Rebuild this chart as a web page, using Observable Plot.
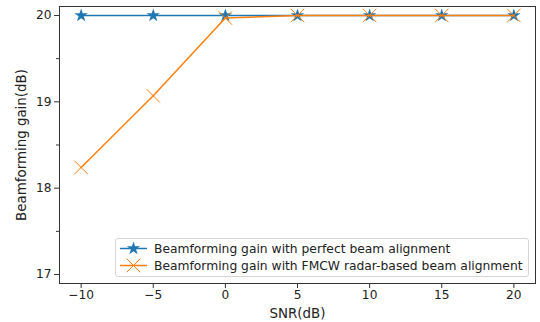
<!DOCTYPE html>
<html>
<head>
<meta charset="utf-8">
<script src="https://cdn.jsdelivr.net/npm/d3@7"></script>
<script src="https://cdn.jsdelivr.net/npm/@observablehq/plot@0.6"></script>
<style>
  html, body { margin: 0; padding: 0; background: #fff; }
  #wrap { position: relative; width: 540px; height: 322px; font-family: "DejaVu Sans", sans-serif; }
  #wrap svg { display: block; }
  g[aria-label="x-axis label"] text, g[aria-label="y-axis label"] text { font-size: 13.4px; }
  #legend { position: absolute; left: 115px; top: 238px; width: 412px; height: 37px;
    border: 1px solid #d6d6d6; border-radius: 3px; background: rgba(255,255,255,0.8);
    font-size: 12.3px; color: #222; }
  .row { position: absolute; left: 0; height: 17px; display: flex; align-items: center; }
  .row svg { margin-left: 4px; margin-right: 7px; }
</style>
</head>
<body>
<div id="wrap"></div>
<script>
const snr = [-10, -5, 0, 5, 10, 15, 20];
const perfectGain = [20, 20, 20, 20, 20, 20, 20];
const fmcwGain = [18.24, 19.07, 19.97, 20, 20, 20, 20];
const seriesNames = [
  "Beamforming gain with perfect beam alignment",
  "Beamforming gain with FMCW radar-based beam alignment"
];
const seriesColors = ["#1f77b4", "#ff7f0e"];
const xTicks = [-10, -5, 0, 5, 10, 15, 20];
const yTicks = [17, 18, 19, 20];
const yMinorTicks = [17.5, 18.5, 19.5];

const perfect = snr.map((s, i) => ({snr: s, gain: perfectGain[i]}));
const fmcw = snr.map((s, i) => ({snr: s, gain: fmcwGain[i]}));
const fmt = d => d < 0 ? "\u2212" + Math.abs(d) : String(d);

const chart = Plot.plot({
  width: 540,
  height: 322,
  marginLeft: 59,
  marginRight: 5,
  marginTop: 6,
  marginBottom: 39,
  style: {fontFamily: "DejaVu Sans, sans-serif", fontSize: "12.2px", color: "#222", background: "#fff"},
  x: {domain: [-11.5, 21.5]},
  y: {domain: [16.896, 20.104]},
  marks: [
    Plot.axisX({ticks: xTicks, tickSize: 5, tickPadding: 2, tickFormat: fmt, stroke: "#333",
      label: "SNR(dB)", labelAnchor: "center", labelOffset: 34, labelArrow: "none"}),
    Plot.axisY({ticks: yTicks, tickSize: 5, tickPadding: 3, tickFormat: fmt, stroke: "#333",
      label: "Beamforming gain(dB)", labelAnchor: "center", labelOffset: 43, labelArrow: "none"}),
    Plot.axisY({ticks: yMinorTicks, tickSize: 3, tickFormat: () => "", stroke: "#333", label: null}),
    Plot.frame({stroke: "#333", strokeWidth: 1}),
    Plot.line(perfect, {x: "snr", y: "gain", stroke: seriesColors[0], strokeWidth: 1.5}),
    Plot.dot(perfect, {x: "snr", y: "gain", symbol: "star", r: 4.2, fill: seriesColors[0], stroke: "none"}),
    Plot.line(fmcw, {x: "snr", y: "gain", stroke: seriesColors[1], strokeWidth: 1.5}),
    Plot.dot(fmcw, {x: "snr", y: "gain", symbol: "times", r: 6.2, stroke: seriesColors[1], strokeWidth: 1})
  ]
});

const wrap = document.getElementById("wrap");
wrap.appendChild(chart);

// legend
const legend = document.createElement("div");
legend.id = "legend";
const symbols = [d3.symbolStar, d3.symbolTimes];
const sizes = [Math.PI * 4.2 * 4.2, Math.PI * 6.2 * 6.2];
seriesNames.forEach((name, i) => {
  const row = document.createElement("div");
  row.className = "row";
  row.style.top = (1 + i * 17) + "px";
  const path = d3.symbol(symbols[i], sizes[i])();
  const filled = i === 0;
  row.innerHTML =
    `<svg width="27" height="17" viewBox="0 0 27 17">
      <line x1="0" x2="27" y1="8.5" y2="8.5" stroke="${seriesColors[i]}" stroke-width="1.5"/>
      <path transform="translate(13.5,8.5)" d="${path}" fill="${filled ? seriesColors[i] : "none"}" stroke="${filled ? "none" : seriesColors[i]}" stroke-width="1"/>
    </svg><span>${name}</span>`;
  legend.appendChild(row);
});
wrap.appendChild(legend);
</script>
</body>
</html>
